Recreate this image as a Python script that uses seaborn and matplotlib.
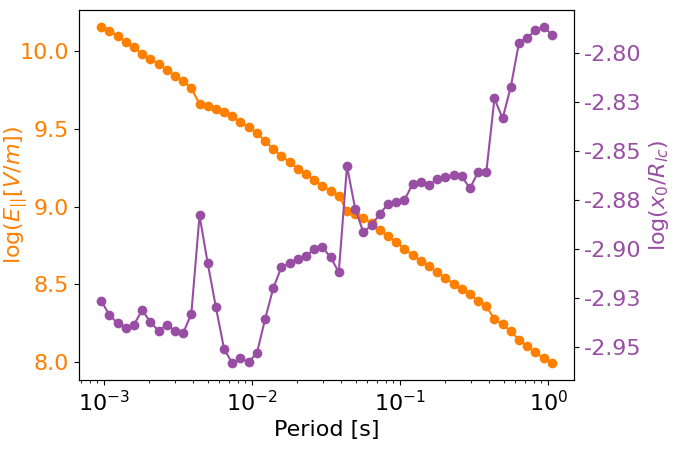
import numpy as np
import pandas as pd
import matplotlib
matplotlib.use("Agg")
import matplotlib.pyplot as plt
import matplotlib.ticker as mticker
import seaborn as sns

# periodos [s]
period = [0.000955, 0.001085, 0.001232, 0.001400, 0.001590, 0.001806, 0.002051,
          0.002330, 0.002647, 0.003007, 0.003416, 0.003880, 0.004408, 0.005007,
          0.005687, 0.006460, 0.007338, 0.008335, 0.009469, 0.01076, 0.01222,
          0.01388, 0.01576, 0.01791, 0.02034, 0.02310, 0.02624, 0.02981,
          0.03386, 0.03846, 0.04369, 0.04963, 0.05637, 0.06403, 0.07274,
          0.08262, 0.09385, 0.1066, 0.1211, 0.1376, 0.1563, 0.1776, 0.2017,
          0.2291, 0.2602, 0.2956, 0.3357, 0.3814, 0.4332, 0.4921, 0.5590,
          0.6349, 0.7212, 0.8192, 0.9309, 1.057]

# log(E_par [V/m])
log_e = [10.154, 10.131, 10.098, 10.058, 10.026, 9.981, 9.949, 9.918, 9.880,
         9.841, 9.809, 9.762, 9.659, 9.646, 9.629, 9.608, 9.582, 9.543, 9.511,
         9.473, 9.421, 9.370, 9.327, 9.286, 9.245, 9.209, 9.170, 9.132, 9.100,
         9.071, 8.971, 8.954, 8.926, 8.894, 8.851, 8.810, 8.774, 8.731, 8.688,
         8.653, 8.617, 8.579, 8.542, 8.504, 8.471, 8.437, 8.392, 8.360, 8.277,
         8.244, 8.199, 8.143, 8.103, 8.064, 8.026, 7.994]

# log(x0 / R_lc)
log_x0 = [-2.9267, -2.9339, -2.9381, -2.9406, -2.9389, -2.9313, -2.9376,
          -2.9420, -2.9389, -2.9420, -2.9432, -2.9333, -2.8831, -2.9075,
          -2.9299, -2.9513, -2.9585, -2.9561, -2.9578, -2.9534, -2.9360,
          -2.9202, -2.9095, -2.9075, -2.9053, -2.9038, -2.9004, -2.8994,
          -2.9044, -2.9121, -2.8579, -2.8797, -2.8917, -2.8880, -2.8824,
          -2.8773, -2.8764, -2.8754, -2.8671, -2.8662, -2.8676, -2.8647,
          -2.8637, -2.8627, -2.8630, -2.8693, -2.8611, -2.8611, -2.8234,
          -2.8336, -2.8173, -2.7949, -2.7924, -2.7886, -2.7870, -2.7908]

cor_e = '#ff7f00'
cor_x0 = '#984ea3'

df = pd.DataFrame({'period': period, 'log_e': log_e, 'log_x0': log_x0})

plt.rcParams['font.size'] = 16
fig, ax1 = plt.subplots(figsize=(6.8, 4.5), dpi=100)
fig.subplots_adjust(left=0.1157, right=0.8446, top=0.977, bottom=0.1556)

sns.lineplot(data=df, x='period', y='log_e', ax=ax1, color=cor_e, marker='o',
             markersize=7, markeredgewidth=0, linewidth=1.5)
ax1.set_xscale('log')
ax1.set_xlabel('Period [s]')
ax1.set_ylabel(r'log($E_{||}[V/m]$)', color=cor_e)
# rotulo mais perto dos ticks, como no original
ax1.yaxis.set_label_coords(-0.098, 0.5)
ax1.tick_params(axis='y', labelcolor=cor_e)
ax1.yaxis.set_major_locator(mticker.MultipleLocator(0.5))

ax2 = ax1.twinx()
sns.lineplot(data=df, x='period', y='log_x0', ax=ax2, color=cor_x0, marker='o',
             markersize=7, markeredgewidth=0, linewidth=1.5)
ax2.set_ylabel(r'log($x_0/R_{lc}$)', color=cor_x0)
ax2.tick_params(axis='y', labelcolor=cor_x0)
ax2.yaxis.set_major_locator(mticker.MultipleLocator(0.025))
ax2.yaxis.set_major_formatter(mticker.FormatStrFormatter('%.2f'))
ax2.set_xscale('log')

plt.savefig('out.png', dpi=100)
